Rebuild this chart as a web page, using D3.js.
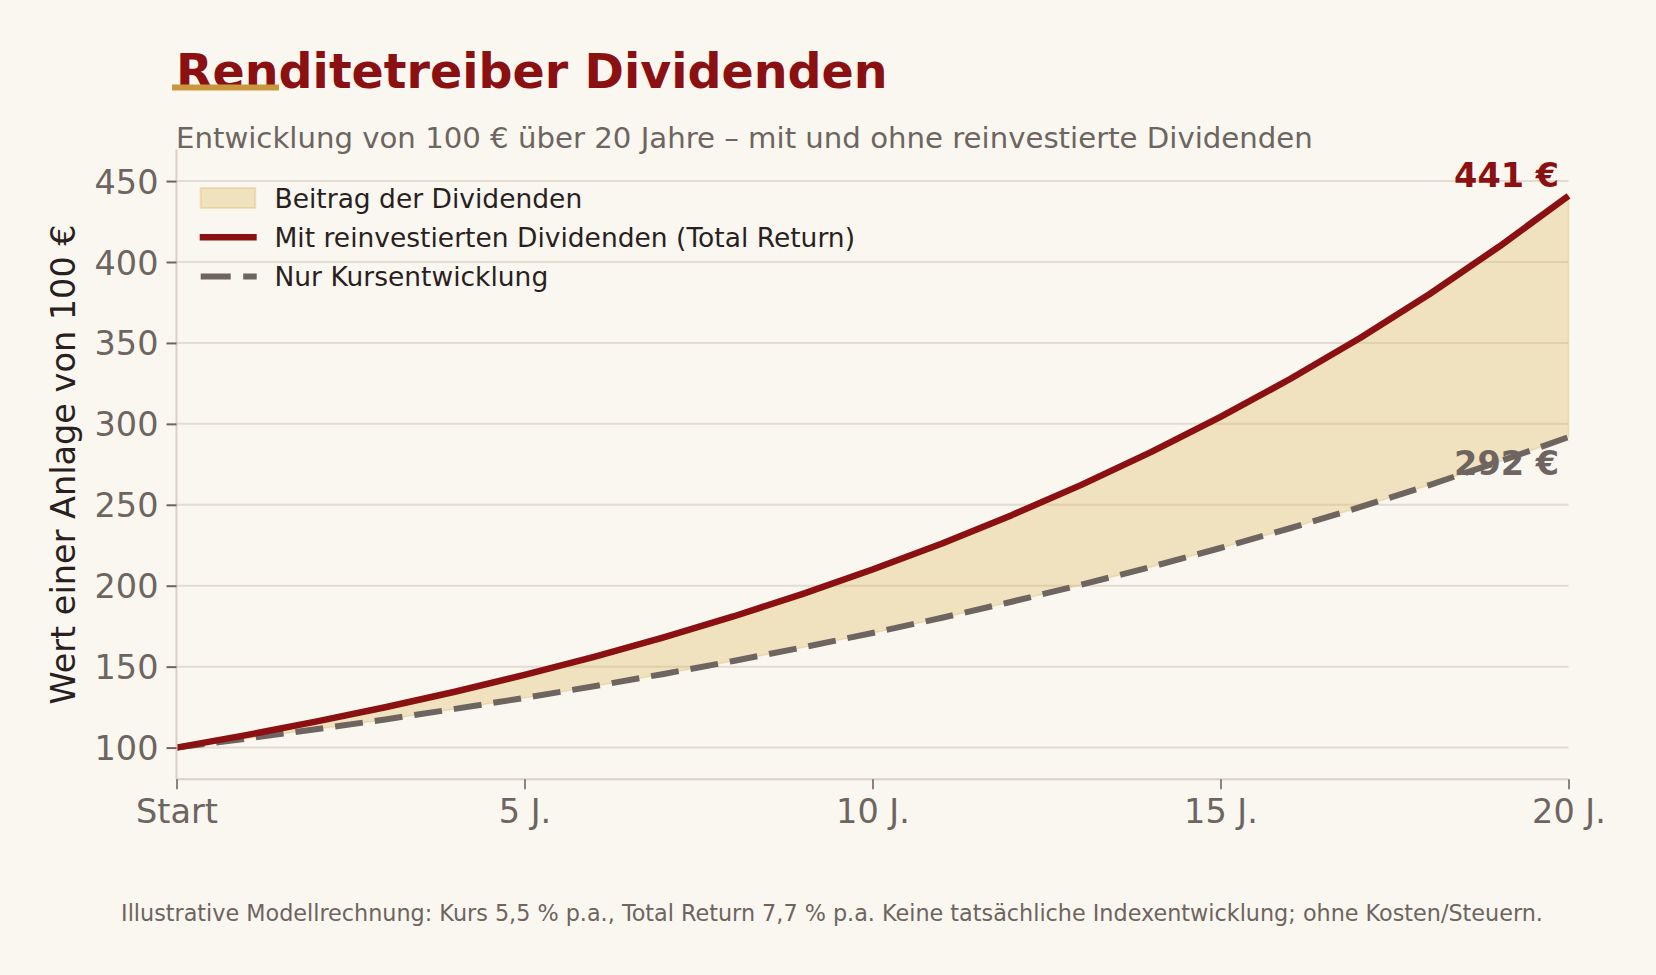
<!DOCTYPE html>
<html>
<head>
<meta charset="utf-8">
<script src="https://cdn.jsdelivr.net/npm/d3@7"></script>
<style>
  html, body { margin: 0; padding: 0; background: #FAF7F0; }
  svg { display: block; }
  text { font-family: "DejaVu Sans", sans-serif; }
</style>
</head>
<body>
<svg id="chart" width="1656" height="975"></svg>
<script>
// ---- data ----
const years = [0,1,2,3,4,5,6,7,8,9,10,11,12,13,14,15,16,17,18,19,20];
const totalReturn = [100.0,107.7,116.0,124.9,134.5,144.9,156.1,168.1,181.0,195.0,210.0,226.1,243.6,262.3,282.5,304.3,327.7,352.9,380.1,409.4,440.9];
const priceOnly = [100.0,105.5,111.3,117.4,123.9,130.7,137.9,145.5,153.5,161.9,170.8,180.2,190.1,200.6,211.6,223.3,235.5,248.5,262.2,276.6,291.8];
const xTicks = [0,5,10,15,20];
const xTickLabels = ["Start","5 J.","10 J.","15 J.","20 J."];
const yTicks = [100,150,200,250,300,350,400,450];
const legendLabels = ["Beitrag der Dividenden","Mit reinvestierten Dividenden (Total Return)","Nur Kursentwicklung"];
const endLabels = ["441 €","292 €"];
const titleText = "Renditetreiber Dividenden";
const subtitleText = "Entwicklung von 100 € über 20 Jahre – mit und ohne reinvestierte Dividenden";
const yLabelText = "Wert einer Anlage von 100 €";
const footerText = "Illustrative Modellrechnung: Kurs 5,5 % p.a., Total Return 7,7 % p.a. Keine tatsächliche Indexentwicklung; ohne Kosten/Steuern.";

// ---- layout ----
const L = 176.5, R = 1568.5, T = 149.5, B = 779.3;
const C = {
  red: "#8B1012", gold: "#C9983E", grey: "#6E6460", ink: "#2A1F1F",
  grid: "#E4DBD1", spine: "#DAD0C5", fill: "#DDB96A"
};

const svg = d3.select("#chart");
svg.append("rect").attr("width",1656).attr("height",975).attr("fill","#FAF7F0");

const x = d3.scaleLinear().domain([0,20]).range([L,R]);
const y = d3.scaleLinear().domain([80.4,469.5]).range([B,T]);

// grid
svg.append("g").selectAll("line").data(yTicks).join("line")
  .attr("x1",L).attr("x2",R).attr("y1",d=>y(d)).attr("y2",d=>y(d))
  .attr("stroke",C.grid).attr("stroke-width",2);

// fill between
const rows = years.map((yr,i)=>({yr, tr: totalReturn[i], pr: priceOnly[i]}));
const area = d3.area().x(d=>x(d.yr)).y0(d=>y(d.pr)).y1(d=>y(d.tr));
svg.append("path").datum(rows).attr("d",area)
  .attr("fill",C.fill).attr("fill-opacity",0.36)
  .attr("stroke",C.fill).attr("stroke-opacity",0.36).attr("stroke-width",1.5);

// lines
const lineTR = d3.line().x(d=>x(d.yr)).y(d=>y(d.tr));
const linePR = d3.line().x(d=>x(d.yr)).y(d=>y(d.pr));
svg.append("path").datum(rows).attr("d",linePR).attr("fill","none")
  .attr("stroke",C.grey).attr("stroke-width",6).attr("stroke-dasharray","28,12");
svg.append("path").datum(rows).attr("d",lineTR).attr("fill","none")
  .attr("stroke",C.red).attr("stroke-width",6.5).attr("stroke-linejoin","round");

// spines
svg.append("line").attr("x1",L).attr("x2",L).attr("y1",T).attr("y2",B)
  .attr("stroke",C.spine).attr("stroke-width",2);
svg.append("line").attr("x1",L).attr("x2",R).attr("y1",B).attr("y2",B)
  .attr("stroke",C.spine).attr("stroke-width",2);

// axes
const yAxis = d3.axisLeft(y).tickValues(yTicks).tickSize(10).tickPadding(8);
const gy = svg.append("g").attr("transform",`translate(${L},0)`).call(yAxis);
gy.select(".domain").remove();
gy.selectAll(".tick line").attr("stroke",C.grey).attr("stroke-width",2);
gy.selectAll(".tick text").attr("fill",C.grey).attr("font-size",33.5)
  .attr("font-family","DejaVu Sans").attr("dy","0.36em");

const xAxis = d3.axisBottom(x).tickValues(xTicks).tickFormat((d,i)=>xTickLabels[i]).tickSize(10).tickPadding(10);
const gx = svg.append("g").attr("transform",`translate(0,${B})`).call(xAxis);
gx.select(".domain").remove();
gx.selectAll(".tick line").attr("stroke",C.grey).attr("stroke-width",1.6);
gx.selectAll(".tick text").attr("fill",C.grey).attr("font-size",33.5)
  .attr("font-family","DejaVu Sans").attr("dy","0.72em");

// y label
svg.append("text").attr("transform",`translate(75,${(T+B)/2}) rotate(-90)`)
  .attr("text-anchor","middle").attr("fill",C.ink).attr("font-size",33.5)
  .text(yLabelText);

// title, underline, subtitle
svg.append("text").attr("x",176).attr("y",87.5).attr("fill",C.red)
  .attr("font-size",47.5).attr("font-weight","bold").text(titleText);
svg.append("rect").attr("x",172).attr("y",84.5).attr("width",107).attr("height",6).attr("fill",C.gold);
svg.append("text").attr("x",176).attr("y",148).attr("fill",C.grey)
  .attr("font-size",29.2).text(subtitleText);

// legend
const lg = svg.append("g");
const lx = 200.7, ly0 = 198, lstep = 39.3;
lg.append("rect").attr("x",lx).attr("y",ly0-10).attr("width",54.5).attr("height",20)
  .attr("fill",C.fill).attr("fill-opacity",0.36).attr("stroke",C.fill).attr("stroke-opacity",0.36).attr("stroke-width",2);
lg.append("line").attr("x1",lx-1).attr("x2",lx+56).attr("y1",ly0+lstep).attr("y2",ly0+lstep)
  .attr("stroke",C.red).attr("stroke-width",6.5);
lg.append("line").attr("x1",lx).attr("x2",lx+56).attr("y1",ly0+2*lstep).attr("y2",ly0+2*lstep)
  .attr("stroke",C.grey).attr("stroke-width",6).attr("stroke-dasharray","30,12.5");
lg.selectAll("text").data(legendLabels).join("text")
  .attr("x",274.5).attr("y",(d,i)=>ly0+i*lstep).attr("dy","0.36em")
  .attr("fill",C.ink).attr("font-size",26.5).text(d=>d);

// end labels
svg.append("text").attr("x",1559).attr("y",y(totalReturn[20])-9).attr("text-anchor","end")
  .attr("fill",C.red).attr("font-size",33.5).attr("font-weight","bold").text(endLabels[0]);
svg.append("text").attr("x",1559).attr("y",y(priceOnly[20])+38).attr("text-anchor","end")
  .attr("fill",C.grey).attr("font-size",33.5).attr("font-weight","bold").text(endLabels[1]);

// footer
svg.append("text").attr("x",832).attr("y",921).attr("text-anchor","middle")
  .attr("fill",C.grey).attr("font-size",22.3).text(footerText);
</script>
</body>
</html>
